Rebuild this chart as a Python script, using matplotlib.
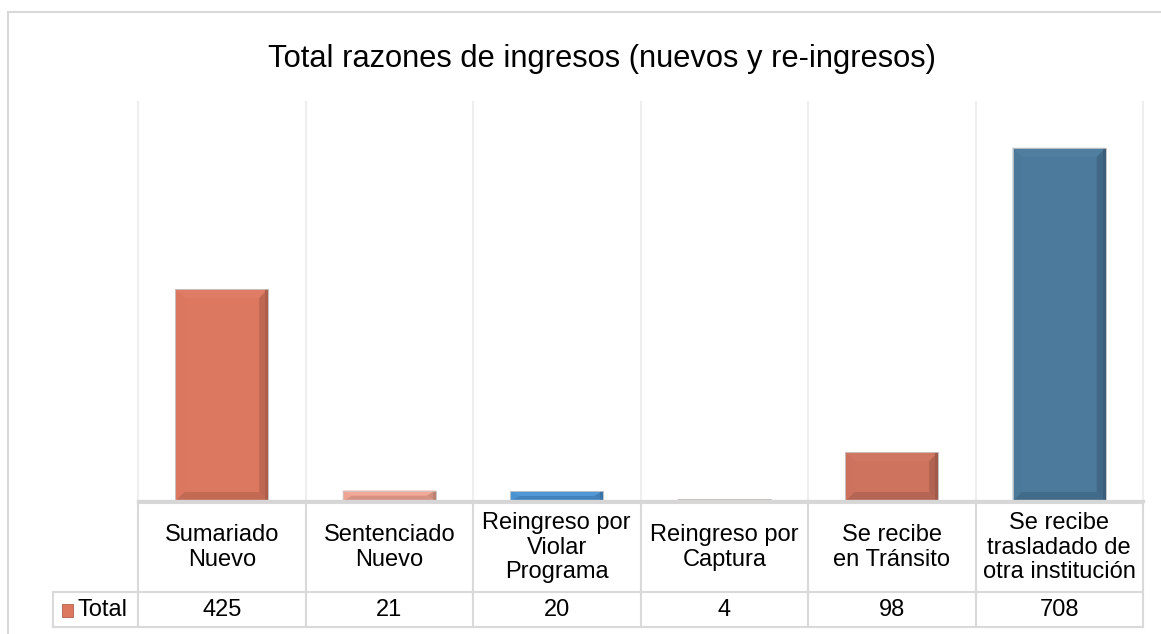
import matplotlib
matplotlib.use("Agg")
import matplotlib.pyplot as plt
from matplotlib.patches import Polygon, Rectangle
from matplotlib.lines import Line2D
from matplotlib.transforms import blended_transform_factory
import matplotlib.colors as mcolors

# ---- data ----
title = "Total razones de ingresos (nuevos y re-ingresos)"
categories = ["Sumariado\nNuevo", "Sentenciado\nNuevo", "Reingreso por\nViolar\nPrograma",
              "Reingreso por\nCaptura", "Se recibe\nen Tránsito", "Se recibe\ntrasladado de\notra institución"]
values = [425, 21, 20, 4, 98, 708]
series_name = "Total"
bar_colors = ["#DD7860", "#F2A594", "#4A94D4", "#D08A78", "#CE735E", "#4B7A9C"]

plt.rcParams['font.family'] = ['Liberation Sans', 'DejaVu Sans']

W, H = 1161, 634
fig = plt.figure(figsize=(W / 100, H / 100), dpi=100)
fig.patch.set_facecolor("white")

def fx(px):
    return px / W

def fy(py):
    return 1 - py / H

# outer chart border
fig.add_artist(Line2D([fx(8), fx(8)], [fy(12), 0], transform=fig.transFigure, color="#D9D9D9", lw=1.5))
fig.add_artist(Line2D([fx(8), 1], [fy(12), fy(12)], transform=fig.transFigure, color="#D9D9D9", lw=1.5))

# title
fig.text(fx(602), fy(67), title, ha="center", va="baseline", fontsize=22.2, color="#000000")

ax = fig.add_axes([fx(138), fy(501), fx(1143) - fx(138), fy(102) - fy(501)])
n = len(categories)
ax.set_xlim(-0.5, n - 0.5)
ax.set_ylim(0, 800)
ax.set_axis_off()

# vertical gridlines (category boundaries)
for i in range(n + 1):
    ax.plot([i - 0.5, i - 0.5], [0, 800], color="#EEEEEE", lw=1.5, zorder=0, clip_on=False)

bar_w = 0.555
ax.bar(range(n), values, width=bar_w, color=bar_colors, edgecolor="#C8C8C8", linewidth=0.6, zorder=2)

# bevel effect
px_x = n / (1143 - 138)     # data units per pixel in x
px_y = 800 / (501 - 102)    # data units per pixel in y
bev = 9

def shade(c, f):
    r, g, b = mcolors.to_rgb(c)
    if f >= 1:
        return (r + (1 - r) * (f - 1), g + (1 - g) * (f - 1), b + (1 - b) * (f - 1))
    return (r * f, g * f, b * f)

for i, (v, c) in enumerate(zip(values, bar_colors)):
    x0, x1 = i - bar_w / 2, i + bar_w / 2
    bx = min(bev * px_x, bar_w / 2)
    by = min(bev * px_y, v / 2)
    # top
    ax.add_patch(Polygon([(x0, v), (x1, v), (x1 - bx, v - by), (x0 + bx, v - by)],
                         closed=True, facecolor=shade(c, 1.03), edgecolor="none", zorder=3))
    # bottom
    ax.add_patch(Polygon([(x0, 0), (x1, 0), (x1 - bx, by), (x0 + bx, by)],
                         closed=True, facecolor=shade(c, 0.88), edgecolor="none", zorder=3))
    # left
    ax.add_patch(Polygon([(x0, 0), (x0, v), (x0 + bx, v - by), (x0 + bx, by)],
                         closed=True, facecolor=shade(c, 0.99), edgecolor="none", zorder=3))
    # right
    ax.add_patch(Polygon([(x1, 0), (x1, v), (x1 - bx, v - by), (x1 - bx, by)],
                         closed=True, facecolor=shade(c, 0.86), edgecolor="none", zorder=3))
    # darker outer strip on the right edge
    ax.add_patch(Rectangle((x1 - 3 * px_x, 0), 3 * px_x, v, facecolor=shade(c, 0.78),
                           edgecolor="none", zorder=3))
    ax.add_patch(Rectangle((x0, 0), bar_w, v, facecolor="none", edgecolor="#C8C8C8", lw=0.6, zorder=4))

# baseline
ax.plot([-0.5, n - 0.5], [0, 0], color="#D6D6D6", lw=2.4, zorder=5, clip_on=False)

# data table
trans = blended_transform_factory(ax.transData, fig.transFigure)
tc = "#D9D9D9"
row_top, row_mid, row_bot = 503, 592, 627
for i in range(n + 1):
    ax.plot([i - 0.5, i - 0.5], [fy(row_top), fy(row_bot)], transform=trans, color=tc, lw=1.5, clip_on=False)
ax.plot([-0.5, n - 0.5], [fy(row_top), fy(row_top)], transform=trans, color=tc, lw=1.5, clip_on=False)
for yy in (row_mid, row_bot):
    fig.add_artist(Line2D([fx(53), fx(1143)], [fy(yy), fy(yy)], transform=fig.transFigure, color=tc, lw=1.5))
fig.add_artist(Line2D([fx(53), fx(53)], [fy(row_mid), fy(row_bot)], transform=fig.transFigure, color=tc, lw=1.5))

for i, (cat, v) in enumerate(zip(categories, values)):
    ax.text(i, fy((row_top + row_mid) / 2), cat, transform=trans, ha="center", va="center",
            fontsize=17, color="#000000", linespacing=1.12, clip_on=False)
    ax.text(i, fy((row_mid + row_bot) / 2 + 1), str(v), transform=trans, ha="center", va="center",
            fontsize=17, color="#000000", clip_on=False)

# legend key in table
fig.add_artist(Rectangle((fx(62), fy(617)), fx(73) - fx(62), fy(604) - fy(617), transform=fig.transFigure,
                         facecolor=bar_colors[0], edgecolor=shade(bar_colors[0], 0.8), lw=0.6))
fig.text(fx(78), fy(610), series_name, ha="left", va="center", fontsize=17, color="#000000")

fig.savefig("out.png", dpi=100, facecolor="white")
